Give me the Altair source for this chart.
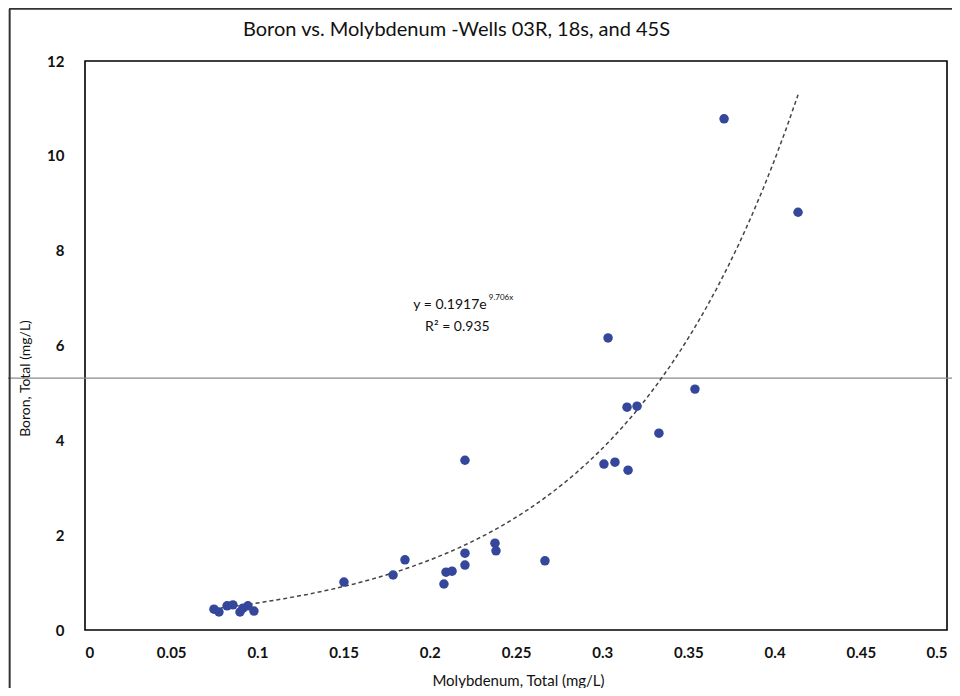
import altair as alt
import pandas as pd

molybdenum = [0.0748, 0.0777, 0.0824, 0.0858, 0.0899, 0.0916, 0.0945, 0.0980,
              0.1502, 0.1787, 0.1856, 0.2082, 0.2094, 0.2129, 0.2204, 0.2204, 0.2204,
              0.2378, 0.2384, 0.2668, 0.3034, 0.3010, 0.3074, 0.3150, 0.3144, 0.3202,
              0.3329, 0.3538, 0.3707, 0.4136]
boron = [0.44, 0.38, 0.51, 0.53, 0.38, 0.46, 0.51, 0.40,
         1.01, 1.16, 1.48, 0.97, 1.22, 1.24, 1.62, 1.37, 3.58,
         1.83, 1.67, 1.46, 6.16, 3.50, 3.54, 3.37, 4.70, 4.72,
         4.15, 5.08, 10.78, 8.81]

title_text = "Boron vs. Molybdenum -Wells 03R, 18s, and 45S"
x_title = "Molybdenum, Total (mg/L)"
y_title = "Boron, Total (mg/L)"
eq_main = "y = 0.1917e"
eq_sup = "9.706x"
eq_r2 = "R² = 0.935"
x_ticks = [0, 0.05, 0.1, 0.15, 0.2, 0.25, 0.3, 0.35, 0.4, 0.45, 0.5]
y_ticks = [0, 2, 4, 6, 8, 10, 12]

FONT = "Lato"
INK = "#111111"

df = pd.DataFrame({"mo": molybdenum, "b": boron})

xs = alt.Scale(domain=[0, 0.5], nice=False)
ys = alt.Scale(domain=[0, 12], nice=False)

xaxis = alt.Axis(values=x_ticks, format="~g", domain=False, ticks=False, grid=False,
                 labelPadding=22, labelFontSize=15, labelFontWeight="bold", labelFont=FONT,
                 labelColor=INK, labelBaseline="middle",
                 title=x_title, titleFontSize=15, titleFont=FONT, titleFontWeight="normal",
                 titleColor=INK, titleY=50, titleX=433, titleBaseline="middle")
yaxis = alt.Axis(values=y_ticks, domain=False, ticks=False, grid=False,
                 labelPadding=21, labelFontSize=15, labelFontWeight="bold", labelFont=FONT,
                 labelColor=INK,
                 title=y_title, titleFontSize=14, titleFont=FONT, titleFontWeight="normal",
                 titleColor=INK, titleX=-60, titleY=317, titleAngle=270,
                 titleAlign="center", titleBaseline="middle")

base = alt.Chart(df)

points = base.mark_circle(size=90, color="#34479A", opacity=1).encode(
    x=alt.X("mo:Q", scale=xs, axis=xaxis),
    y=alt.Y("b:Q", scale=ys, axis=yaxis),
)

trend = base.transform_regression("mo", "b", method="exp").mark_line(
    color="#444444", strokeDash=[4, 3], strokeWidth=1.5
).encode(x=alt.X("mo:Q", scale=xs), y=alt.Y("b:Q", scale=ys))

ann = pd.DataFrame({"x": [0.2330], "y": [6.85], "t": [eq_main]})
main_txt = alt.Chart(ann).mark_text(align="right", baseline="middle", fontSize=14,
                                    font=FONT, color=INK).encode(
    x=alt.X("x:Q", scale=xs), y=alt.Y("y:Q", scale=ys), text="t:N")
sup = pd.DataFrame({"x": [0.2342], "y": [7.0], "t": [eq_sup]})
sup_txt = alt.Chart(sup).mark_text(align="left", baseline="middle", fontSize=8,
                                   font=FONT, color=INK).encode(
    x=alt.X("x:Q", scale=xs), y=alt.Y("y:Q", scale=ys), text="t:N")
r2 = pd.DataFrame({"x": [0.2160], "y": [6.38], "t": [eq_r2]})
r2_txt = alt.Chart(r2).mark_text(align="center", baseline="middle", fontSize=14,
                                 font=FONT, color=INK).encode(
    x=alt.X("x:Q", scale=xs), y=alt.Y("y:Q", scale=ys), text="t:N")

ttl = pd.DataFrame({"t": [title_text]})
title_txt = alt.Chart(ttl).mark_text(align="left", baseline="middle", fontSize=20,
                                     font=FONT, color=INK, clip=False).encode(
    x=alt.value(158), y=alt.value(-31), text="t:N")

# scan artefacts: grey horizontal line and dark outer border
art = pd.DataFrame({"y": [5.31]})
art_line = alt.Chart(art).mark_rule(color="#8a8a8a", strokeWidth=1.3, clip=False).encode(
    y=alt.Y("y:Q", scale=ys), x=alt.value(-85), x2=alt.value(875))
top_border = alt.Chart(art).mark_rule(color="#333333", strokeWidth=2, clip=False).encode(
    y=alt.YDatum(13.1, scale=ys), x=alt.value(-76), x2=alt.value(875))
left_border = alt.Chart(art).mark_rule(color="#333333", strokeWidth=2, clip=False).encode(
    x=alt.XDatum(-0.0437, scale=xs), y=alt.value(-52), y2=alt.value(640))

chart = alt.layer(art_line, top_border, left_border, trend, points,
                  main_txt, sup_txt, r2_txt, title_txt).properties(
    width=862, height=569,
    autosize=alt.AutoSizeParams(type="none"),
    padding={"left": 77, "top": 53, "right": 5, "bottom": 58},
    view=alt.ViewBackground(stroke="#000000", strokeWidth=1.6, fill="white"),
).configure_view(stroke="#000000", strokeWidth=1.6).configure(background="white")

chart.save("out.html", embed_options={"renderer": "svg", "actions": False})
